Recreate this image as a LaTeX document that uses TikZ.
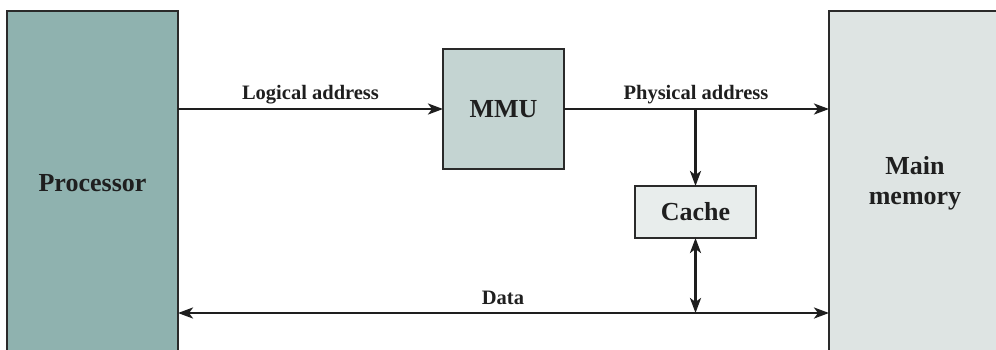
\documentclass[tikz,border=0pt]{standalone}
\usepackage{fontspec}
\setmainfont{Liberation Serif}
\usetikzlibrary{arrows.meta,calc}
\definecolor{procfill}{HTML}{8FB2AF}
\definecolor{mmufill}{HTML}{C4D4D2}
\definecolor{cachefill}{HTML}{E8EDEC}
\definecolor{memfill}{HTML}{DEE4E3}
\definecolor{edge}{HTML}{2A2A2A}
\definecolor{wire}{HTML}{1E1E1E}
\begin{document}
\begin{tikzpicture}[x=1pt,y=-1pt,
  blk/.style={draw=edge,line width=1.5pt,rectangle,inner sep=0pt,outer sep=0pt,
    font=\fontsize{26}{30}\selectfont\bfseries,text=black!88,align=center},
  wirestyle/.style={draw=wire,line width=2.5pt},
  tip/.style={-{Stealth[length=15pt,width=11pt,inset=4pt]}},
  dtip/.style={{Stealth[length=15pt,width=11pt,inset=4pt]}-{Stealth[length=15pt,width=11pt,inset=4pt]}},
  lbl/.style={font=\fontsize{20.5}{24}\selectfont\bfseries,text=black!88,inner sep=0pt,anchor=base}]
\useasboundingbox (0,0) rectangle (996,349);
\begin{scope}
\clip (0,0) rectangle (996,349);
\node[blk,fill=procfill,minimum width=171pt,minimum height=344pt] (proc) at (92.5,183) {Processor};
\node[blk,fill=memfill,minimum width=172pt,minimum height=344pt] (mem) at (915,183) {Main\\memory};
\end{scope}
\node[blk,fill=mmufill,minimum width=121pt,minimum height=120pt] (mmu) at (503.5,109) {MMU};
\node[blk,fill=cachefill,minimum width=121pt,minimum height=52pt] (cache) at (695.5,212) {Cache};
\coordinate (datay) at (0,313);
\coordinate (br) at (cache.north |- mmu.west);
% logical address
\draw[wirestyle,tip] (proc.east |- mmu.west) -- (mmu.west);
\node[lbl] (latext) at (310.5,99) {Logical address};
% physical address
\draw[wirestyle,tip] (mmu.east) -- (mmu.east -| mem.west);
\node[lbl] (patext) at (696,99) {Physical address};
\draw[wirestyle,tip] (br) -- (cache.north);
% data
\draw[wirestyle,dtip] (proc.east |- datay) -- (mem.west |- datay);
\node[lbl] (datatext) at (503,304) {Data};
\draw[wirestyle,dtip] (cache.south) -- (cache.south |- datay);
\end{tikzpicture}
\end{document}
